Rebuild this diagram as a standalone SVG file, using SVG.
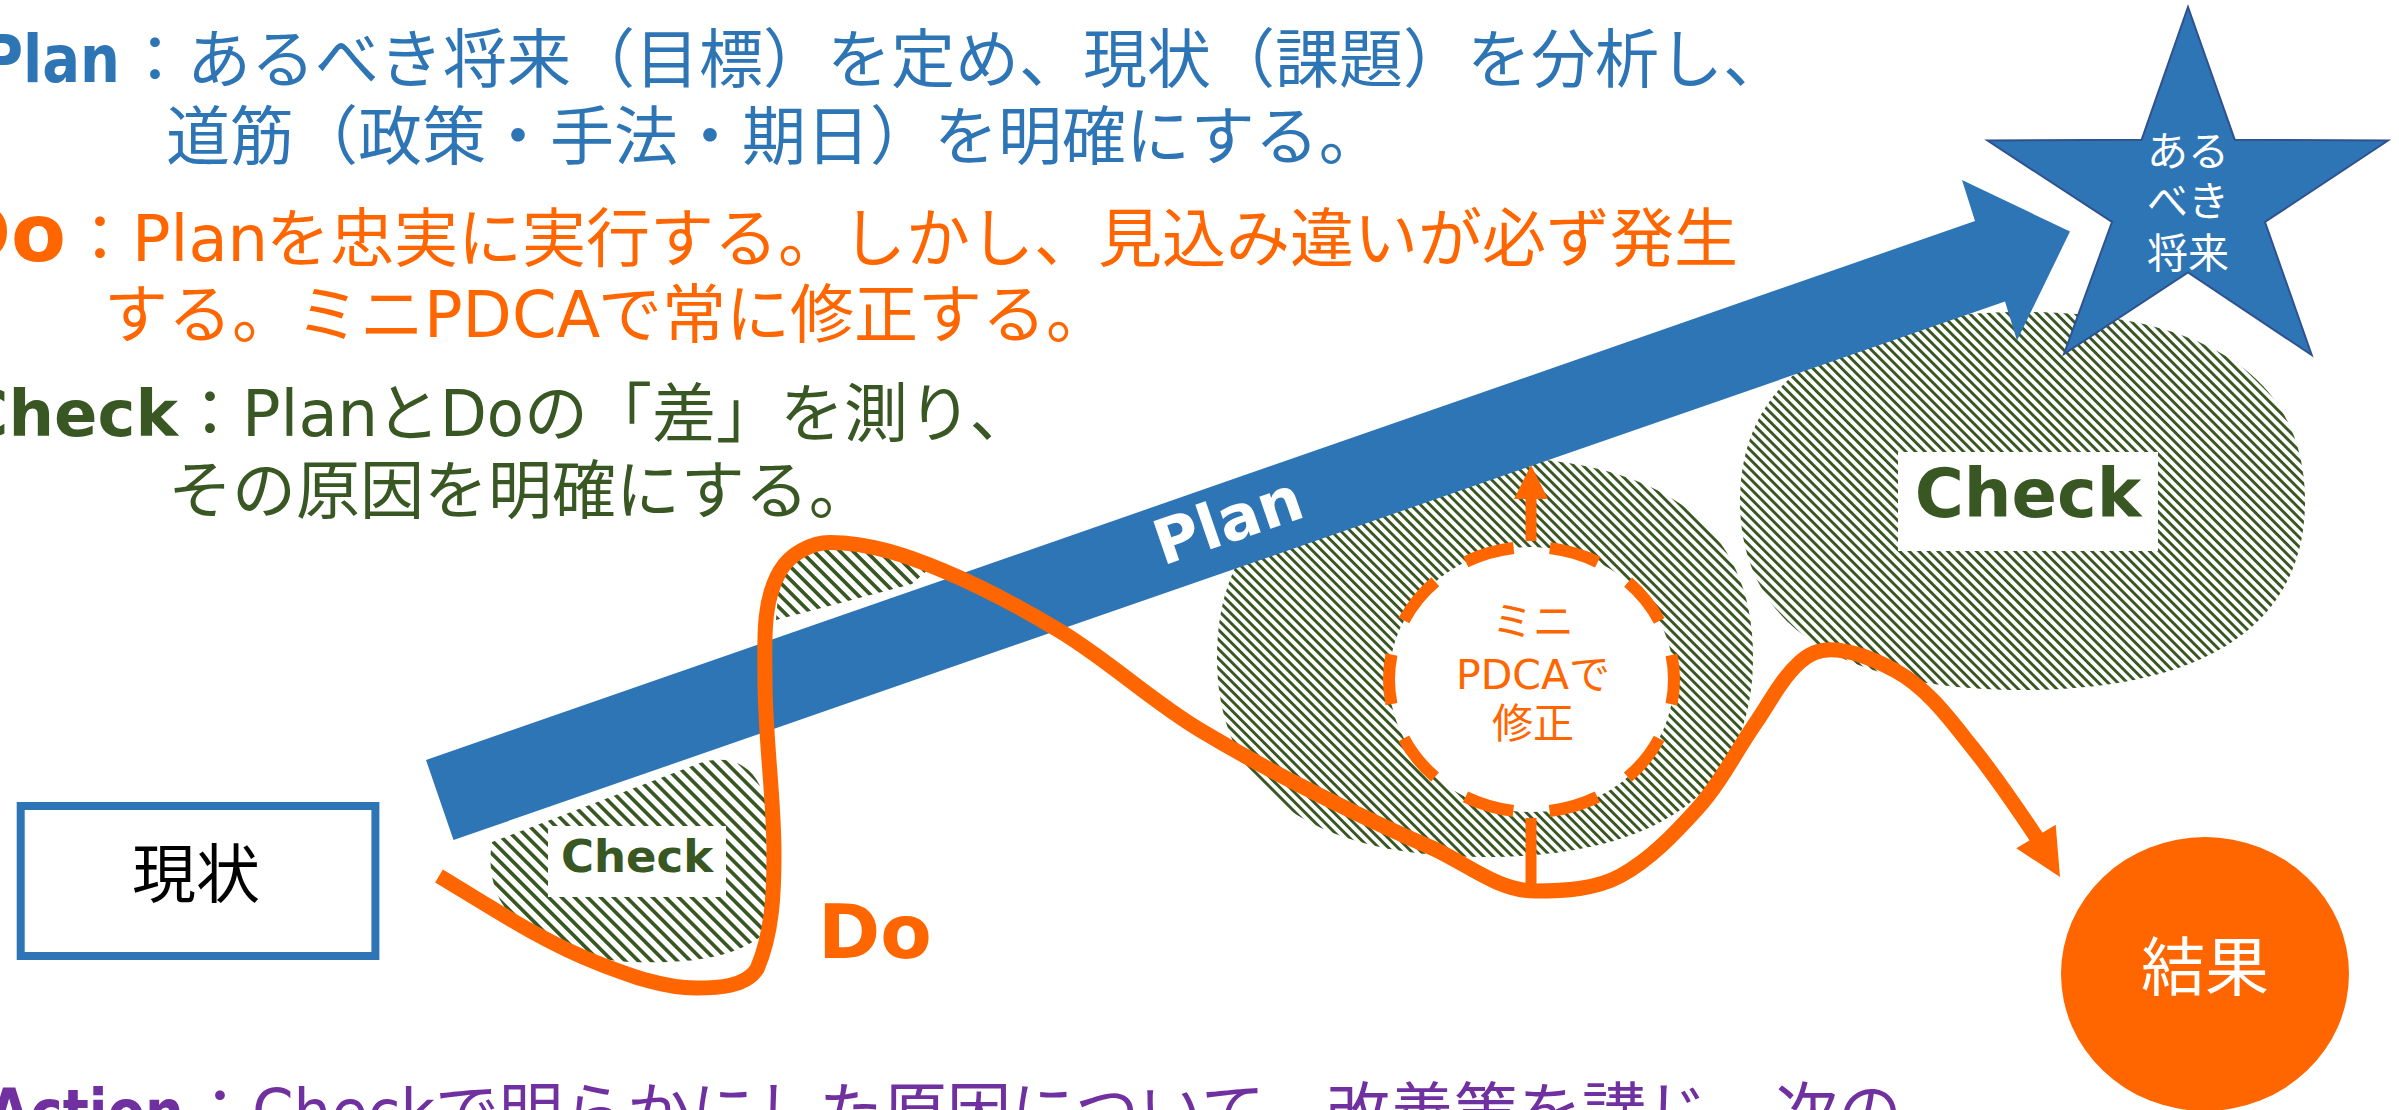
<svg xmlns="http://www.w3.org/2000/svg" width="2399" height="1110" viewBox="0 0 2399 1110">
<defs>
<style>
text { font-family: "DejaVu Sans", "Noto Sans CJK JP", sans-serif; }
.b { font-weight: bold; }
.blue { fill: #2E75B6; }
.orange { fill: #FF6600; }
.green { fill: #385723; }
.purple { fill: #7030A0; }
.f64 { font-size: 64px; }
.lbl { fill: #ffffff; }
.hatchS { fill: url(#hatchS); }
.hatchM { fill: url(#hatchM); }
.doline { fill: none; stroke: #FF6600; stroke-width: 15; }
</style>
<pattern id="hatchS" patternUnits="userSpaceOnUse" width="9.2" height="9.2" patternTransform="rotate(-45)">
<rect width="9.2" height="9.2" fill="#ffffff"/>
<rect width="3.6" height="9.2" fill="#385723" shape-rendering="crispEdges"/>
</pattern>
<pattern id="hatchM" patternUnits="userSpaceOnUse" width="6.8" height="6.8" patternTransform="rotate(-45)">
<rect width="6.8" height="6.8" fill="#ffffff"/>
<rect width="2.9" height="6.8" fill="#385723" shape-rendering="crispEdges"/>
</pattern>
</defs>
<rect width="2399" height="1110" fill="#ffffff"/>

<g id="text-plan" class="blue f64">
<text x="-18" y="82" class="b" font-size="66" textLength="138" lengthAdjust="spacingAndGlyphs">Plan</text>
<text x="123" y="82">：あるべき将来（目標）を定め、現状（課題）を分析し、</text>
<text x="166" y="159">道筋（政策・手法・期日）を明確にする。</text>
</g>

<g id="text-do" class="orange f64">
<text x="66" y="261" text-anchor="end" class="b" font-size="80">Do</text>
<text x="68" y="261">：</text>
<text x="132" y="261">Plan</text>
<text x="266" y="261">を忠実に実行する。しかし、見込み違いが必ず発生</text>
<text x="104" y="337">する。ミニ</text>
<text x="424" y="337">PDCA</text>
<text x="598" y="337">で常に修正する。</text>
</g>

<g id="text-check" class="green f64">
<text x="178" y="436" text-anchor="end" class="b">Check</text>
<text x="178" y="436">：</text>
<text x="242" y="436">Plan</text>
<text x="376" y="436">と</text>
<text x="440" y="436" textLength="84" lengthAdjust="spacingAndGlyphs">Do</text>
<text x="524" y="436">の「差」を測り、</text>
<text x="168" y="513">その原因を明確にする。</text>
</g>

<g id="text-action" class="purple f64">
<text x="-12" y="1135" class="b" textLength="196" lengthAdjust="spacingAndGlyphs">Action</text>
<text x="188" y="1135">：</text>
<text x="252" y="1135" textLength="183" lengthAdjust="spacingAndGlyphs">Check</text>
<text x="435" y="1135">で明らかにした原因について、改善策を講じ、次の</text>
</g>

<g id="check-small">
<path class="hatchS" d="M 492 842 L 600 801 L 700 763 C 735 752, 760 770, 766 805 L 768 930 C 740 958, 690 964, 630 962 C 570 958, 520 935, 500 900 C 490 880, 489 860, 492 842 Z"/>
<path class="hatchS" d="M 776 620 L 912 584 L 932 566 L 840 538 L 800 553 L 779 585 Z"/>
<rect class="lbl" x="548" y="826" width="178" height="71"/>
<text x="637" y="872" text-anchor="middle" class="b green" font-size="45">Check</text>
</g>

<g id="check-mini">
<path class="hatchM" d="M 1217 657 C 1217 525, 1308.1 457, 1485 457 C 1661.9 457, 1753 525, 1753 657 C 1753 789, 1661.9 857, 1485 857 C 1308.1 857, 1217 789, 1217 657 Z"/>
</g>

<g id="check-big">
<path class="hatchM" d="M 1740 501 C 1740 378.15, 1838.9 312, 2022.5 312 C 2206.1 312, 2305 378.15, 2305 501 C 2305 623.85, 2206.1 690, 2022.5 690 C 1838.9 690, 1740 623.85, 1740 501 Z"/>
<rect class="lbl" x="1898" y="452" width="260" height="99"/>
<text x="2028" y="517" text-anchor="middle" class="b green" font-size="67">Check</text>
</g>

<g id="mini-pdca">
<ellipse cx="1531.5" cy="679.5" rx="142.5" ry="132.5" fill="#ffffff" stroke="#FF6600" stroke-width="12" stroke-dasharray="50 36.42" stroke-dashoffset="25"/>
<text x="1533" y="636" text-anchor="middle" class="orange" font-size="41">ミニ</text>
<text x="1533" y="689" text-anchor="middle" class="orange" font-size="41">PDCAで</text>
<text x="1533" y="738" text-anchor="middle" class="orange" font-size="41">修正</text>
</g>

<g id="plan-arrow">
<polygon points="426,760 1975,221 1962,180 2070,231.5 2017,340.6 2005,301.6 453.5,840" fill="#2E75B6"/>
<text x="1235" y="541" transform="rotate(-19 1235 541)" text-anchor="middle" class="b" font-size="62" fill="#ffffff">Plan</text>
</g>

<g id="star">
<polygon points="2188,7 2234.7,139.7 2388,140.5 2265,222 2311.7,355 2188,272.5 2064,354 2112,222 1987.5,140.5 2141.7,139.7" fill="#2E75B6" stroke="#2F528F" stroke-width="2" stroke-linejoin="miter"/>
<text x="2188" y="166" text-anchor="middle" font-size="41" fill="#ffffff">ある</text>
<text x="2188" y="216" text-anchor="middle" font-size="41" fill="#ffffff">べき</text>
<text x="2188" y="268" text-anchor="middle" font-size="41" fill="#ffffff">将来</text>
</g>

<g id="genjo">
<rect x="20.7" y="806" width="354.7" height="150" fill="#ffffff" stroke="#2E75B6" stroke-width="8"/>
<text x="196" y="897" text-anchor="middle" font-size="64" fill="#000000">現状</text>
</g>

<g id="kekka">
<ellipse cx="2205" cy="974" rx="144" ry="137" fill="#FF6600"/>
<text x="2205" y="990" text-anchor="middle" font-size="64" fill="#ffffff">結果</text>
</g>

<g id="connectors">
<path class="doline" d="M 439 876 C 491.3 907.4, 543 942.3, 600 964 C 630.9 975.7, 663 988, 696 988 C 717.3 988, 745.5 986.9, 757 969 C 772.5 933, 774 892.8, 774 854 C 774 796, 765 738, 765 680 C 765 643.3, 761.6 602.7, 780 571 C 789.6 554.4, 810.8 542.5, 830 542.5 C 869.2 542.5, 907.9 555.8, 944 571 C 983.8 587.7, 1022 608.3, 1059 630.5 C 1108.3 660.1, 1150.7 700.4, 1200 730 C 1237.4 752.5, 1276 773.5, 1315 793 C 1352.8 811.9, 1391.1 830.3, 1430 847 C 1464.8 862, 1497.1 891, 1535 891 C 1564.1 891, 1595.5 889.5, 1621 875.5 C 1650.7 859.2, 1674.7 833.6, 1697.5 808.5 C 1720.4 783.3, 1735.6 752.1, 1755 724 C 1769.5 703, 1781 679.1, 1800 662 C 1808 654.8, 1819.2 649.7, 1830 649.7 C 1853.1 649.7, 1875.8 659.9, 1896 671 C 1927.4 688.3, 1949.6 719, 1972 747 C 1993.4 773.7, 2018 809.5, 2037 838"/>
<polygon points="2060,877 2016.3,848.3 2055.7,824.7" fill="#FF6600"/>
<line x1="1531" y1="541" x2="1531" y2="497" stroke="#FF6600" stroke-width="11"/>
<polygon points="1531,465 1548,499 1514,499" fill="#FF6600"/>
<line x1="1531" y1="818" x2="1531" y2="884" stroke="#FF6600" stroke-width="11"/>
</g>

<g id="do-label">
<text x="818" y="958" class="b orange" font-size="75">Do</text>
</g>
</svg>
